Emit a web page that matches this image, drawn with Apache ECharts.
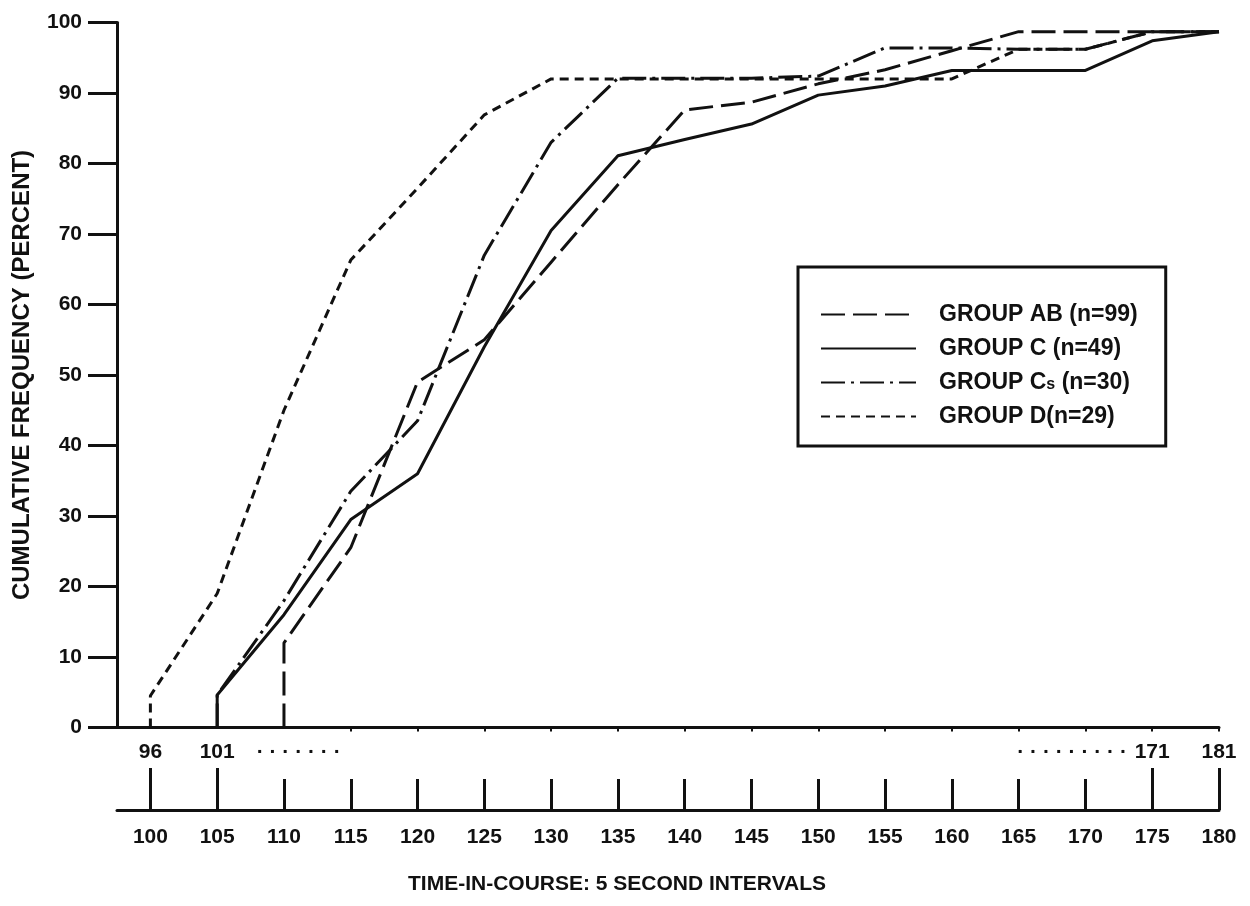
<!DOCTYPE html>
<html>
<head>
<meta charset="utf-8">
<title>Cumulative frequency - time in course</title>
<script src="https://cdn.jsdelivr.net/npm/echarts@6.0.0/dist/echarts.min.js"></script>
<style>
	html, body { margin: 0; padding: 0; background: #fff; }
	#chart { width: 1250px; height: 906px; }
</style>
</head>
<body>
<div id="chart"></div>
<script>
// 5 second interval marks on the x axis
var times = [100, 105, 110, 115, 120, 125, 130, 135, 140, 145, 150, 155, 160, 165, 170, 175, 180];

// cumulative frequency (percent), null = group not started yet
var groupAB = [null, null, 12, 25.5, 49, 55, 66, 77, 87.6, 88.7, 91.3, 93.3, 96, 98.7, 98.7, 98.7, 98.7];
var groupC = [null, 4.6, 16, 29.5, 36, 54, 70.5, 81.1, 83.4, 85.6, 89.7, 91, 93.2, 93.2, 93.2, 97.4, 98.7];
var groupCs = [null, 4.6, 18, 33.5, 43.5, 67, 83, 92.1, 92.1, 92.1, 92.4, 96.4, 96.4, 96.2, 96.2, 98.7, 98.7];
var groupD = [4.5, 19, 45, 66.3, 76.5, 86.9, 92, 92, 92, 92, 92, 92, 92, 96.2, 96.2, 98.7, 98.7];

var yTicks = [0, 10, 20, 30, 40, 50, 60, 70, 80, 90, 100];

// actual seconds written above the interval scale
var secondMarks = [100, 105, 175, 180];
var secondLabels = {
	100: '96',
	105: '101',
	111.1: '· · · · · · ·',
	169: '· · · · · · · · ·',
	175: '171',
	180: '181'
};

var ink = '#111';
var font = 'Liberation Sans';

// each curve rises straight up from 0 at its first interval
function toPoints(values) {
	var pts = [];
	for(var i = 0; i < values.length; i++) {
		if(values[i] == null) continue;
		if(pts.length === 0) pts.push([times[i], 0]);
		pts.push([times[i], values[i]]);
	}
	return pts;
}

function lineSeries(name, values, dash) {
	return {
		name: name,
		type: 'line',
		data: toPoints(values),
		symbol: 'none',
		smooth: false,
		lineStyle: { color: ink, width: 3, type: dash, cap: 'butt' },
		itemStyle: { color: ink }
	};
}

var chart = echarts.init(document.getElementById('chart'));

var option = {
	animation: false,
	backgroundColor: '#fff',
	title: {
		text: 'TIME-IN-COURSE: 5 SECOND INTERVALS',
		left: 408,
		top: 874,
		padding: 0,
		textStyle: { fontFamily: font, fontWeight: 'bold', fontSize: 21, color: ink }
	},
	grid: { left: 117, right: 31, top: 22.5, bottom: 178.5, outerBoundsMode: 'none' },
	legend: {
		orient: 'vertical',
		left: 798,
		top: 267,
		padding: [36, 28, 18, 22],
		borderColor: ink,
		borderWidth: 3,
		itemWidth: 95,
		itemHeight: 20,
		itemGap: 11,
		itemStyle: { opacity: 0 },
		data: ['GROUP AB (n=99)', 'GROUP C (n=49)', 'GROUP Cs (n=30)', 'GROUP D(n=29)'],
		formatter: function(name) {
			if(name === 'GROUP Cs (n=30)') return 'GROUP C{sub|s} (n=30)';
			return name;
		},
		textStyle: {
			fontFamily: font,
			fontWeight: 'bold',
			fontSize: 23,
			color: ink,
			padding: [0, 0, 0, 18],
			rich: {
				sub: { fontFamily: font, fontWeight: 'bold', fontSize: 16, color: ink, padding: [5, 0, 0, 0] }
			}
		}
	},
	xAxis: [{
		type: 'value',
		min: 97.5,
		max: 180,
		splitLine: { show: false },
		axisLine: { lineStyle: { color: ink, width: 3 } },
		axisTick: {
			customValues: times.slice(3),
			length: 4,
			lineStyle: { color: ink, width: 2 }
		},
		axisLabel: { show: false }
	}, {
		type: 'value',
		position: 'bottom',
		offset: 82.5,
		min: 97.5,
		max: 180,
		splitLine: { show: false },
		axisLine: { lineStyle: { color: ink, width: 3 } },
		axisTick: {
			customValues: times,
			inside: true,
			length: 31,
			lineStyle: { color: ink, width: 3 }
		},
		axisLabel: {
			customValues: times,
			margin: 17,
			fontFamily: font,
			fontWeight: 'bold',
			fontSize: 21,
			color: ink
		}
	}, {
		type: 'value',
		position: 'bottom',
		offset: 82.5,
		min: 97.5,
		max: 180,
		splitLine: { show: false },
		axisLine: { show: false },
		axisTick: {
			customValues: secondMarks,
			inside: true,
			length: 42,
			lineStyle: { color: ink, width: 3 }
		},
		axisLabel: {
			customValues: [100, 105, 111.1, 169, 175, 180],
			inside: true,
			margin: 47,
			fontFamily: font,
			fontWeight: 'bold',
			fontSize: 21,
			color: ink,
			formatter: function(v) { return secondLabels[v] || ''; }
		}
	}],
	yAxis: {
		type: 'value',
		min: yTicks[0],
		max: yTicks[yTicks.length - 1],
		interval: 10,
		name: 'CUMULATIVE FREQUENCY (PERCENT)',
		nameLocation: 'middle',
		nameGap: 83,
		nameTextStyle: { fontFamily: font, fontWeight: 'bold', fontSize: 24, color: ink },
		splitLine: { show: false },
		axisLine: { lineStyle: { color: ink, width: 3 } },
		axisTick: { length: 29, lineStyle: { color: ink, width: 3 } },
		axisLabel: { margin: 35, fontFamily: font, fontWeight: 'bold', fontSize: 21, color: ink }
	},
	series: [
		lineSeries('GROUP AB (n=99)', groupAB, [24, 8]),
		lineSeries('GROUP C (n=49)', groupC, 'solid'),
		lineSeries('GROUP Cs (n=30)', groupCs, [24, 6, 3, 6]),
		lineSeries('GROUP D(n=29)', groupD, [9, 6])
	]
};

chart.setOption(option);
</script>
</body>
</html>
